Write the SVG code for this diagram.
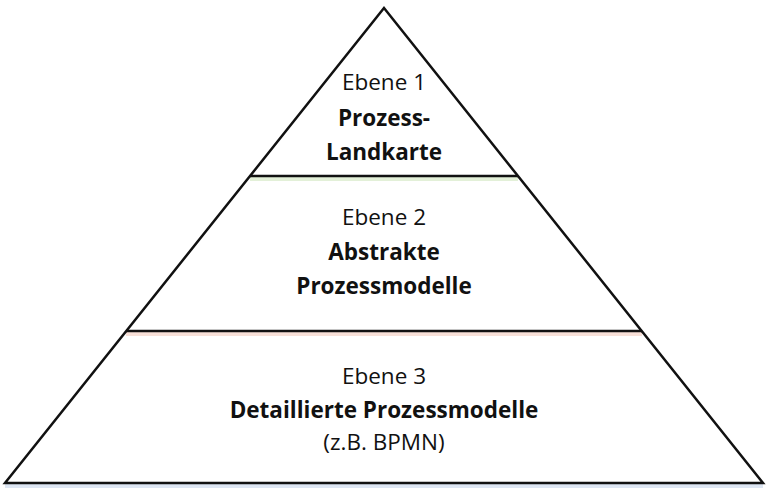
<svg xmlns="http://www.w3.org/2000/svg" width="768" height="490" viewBox="0 0 768 490">
<style>
text{font-family:"Open Sans","Liberation Sans",sans-serif;font-size:22.5px;fill:#111;text-anchor:middle}
.b{font-weight:bold}
.l{stroke:#111;stroke-width:2.5;fill:none}
</style>
<rect width="768" height="490" fill="#fff"/>
<g id="connectors">
<line x1="250" y1="179" x2="518" y2="179" stroke="#e3f0d8" stroke-width="4"/>
<line x1="126" y1="334" x2="642" y2="334" stroke="#f8e0d8" stroke-width="4"/>
<line x1="5" y1="486" x2="763" y2="486" stroke="#dde6f3" stroke-width="4"/>
</g>
<g id="pyramid">
<polygon class="l" points="384,8 763,483 5,483"/>
<line class="l" x1="250" y1="176" x2="518" y2="176"/>
<line class="l" x1="126" y1="331" x2="642" y2="331"/>
</g>
<g id="level1">
<text x="384" y="90">Ebene 1</text>
<text x="384" y="126" class="b">Prozess-</text>
<text x="384" y="160" class="b">Landkarte</text>
</g>
<g id="level2">
<text x="384" y="225">Ebene 2</text>
<text x="384" y="260" class="b">Abstrakte</text>
<text x="384" y="294" class="b">Prozessmodelle</text>
</g>
<g id="level3">
<text x="384" y="384">Ebene 3</text>
<text x="384" y="418" class="b">Detaillierte Prozessmodelle</text>
<text x="384" y="450">(z.B. BPMN)</text>
</g>
</svg>
